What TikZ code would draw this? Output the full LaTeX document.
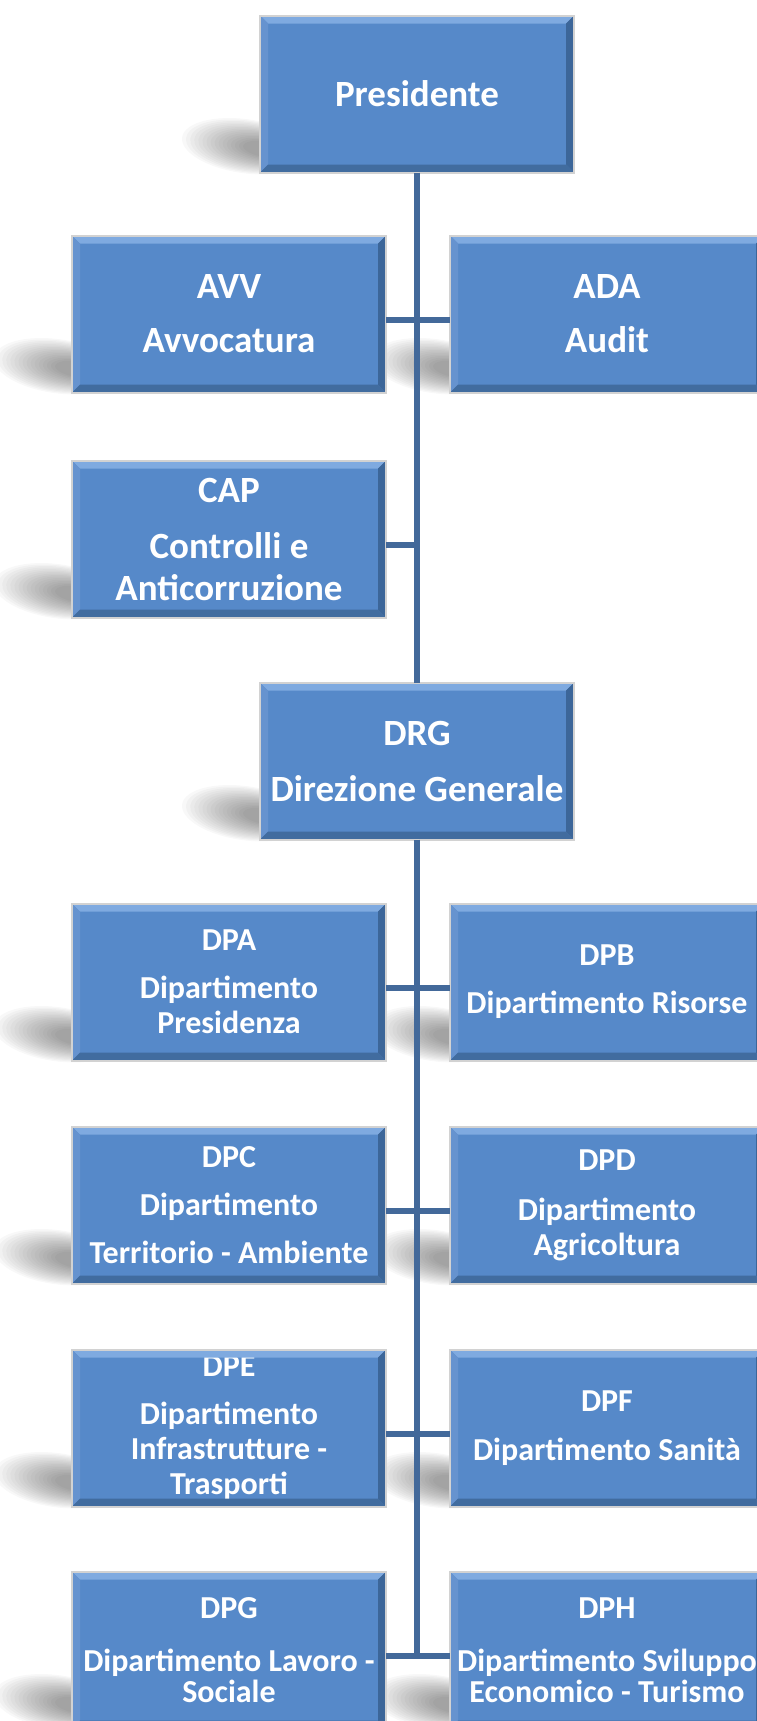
\documentclass[tikz,border=0pt]{standalone}
\usepackage{fontspec}
\setmainfont{Carlito}
\usepackage{xcolor}
\usepackage{tikz}
\usetikzlibrary{positioning,backgrounds}

\definecolor{boxblu}{HTML}{5689C9}
\definecolor{boxchiaro}{HTML}{7FAAE0}
\definecolor{boxsinistro}{HTML}{6693CF}
\definecolor{boxscuro}{HTML}{3C6699}
\definecolor{boxfondo}{HTML}{416C9F}
\definecolor{lineablu}{HTML}{43699A}

% bordo smussato di un riquadro
\newcommand{\smusso}[1]{%
  \fill[boxchiaro] (#1.north west) -- (#1.north east) -- ([shift={(-8,8)}]#1.north east) -- ([shift={(8,8)}]#1.north west) -- cycle;
  \fill[boxsinistro] (#1.north west) -- ([shift={(8,8)}]#1.north west) -- ([shift={(8,-8)}]#1.south west) -- (#1.south west) -- cycle;
  \fill[boxscuro] (#1.north east) -- (#1.south east) -- ([shift={(-8,-8)}]#1.south east) -- ([shift={(-8,8)}]#1.north east) -- cycle;
  \fill[boxfondo] (#1.south west) -- (#1.south east) -- ([shift={(-8,-8)}]#1.south east) -- ([shift={(8,-8)}]#1.south west) -- cycle;
  \draw[gray!35, line width=2pt] (#1.north west) rectangle (#1.south east);
}

% ombra sfumata a sinistra
\newcommand{\ombra}[1]{%
  \foreach \k in {0,...,15} {
    \fill[black, opacity=0.028, shift={(#1.south west)}, rotate=-8]
      (-18+1.5*\k,-24) ellipse [x radius=64-2.6*\k, y radius=27-1.25*\k];
  }
}

\begin{document}
\begin{tikzpicture}[x=1pt, y=-1pt, node distance=65pt]
  % Define styles
  \tikzstyle{vertice} = [rectangle, fill=boxblu, draw=gray!35, line width=2pt, minimum width=314pt, minimum height=157pt, inner sep=0pt, outer sep=0pt, align=center, text=white, font=\bfseries\fontsize{37}{42}\selectfont]
  \tikzstyle{dip} = [vertice, font=\bfseries\fontsize{32}{35}\selectfont]
  \tikzstyle{linea} = [draw, line width=5.5pt, lineablu]

  \useasboundingbox (0,0) rectangle (757,1721);

  % Nodes
  \node [vertice] (presidente) at (417,94) {Presidente};
  \node [vertice, below=63pt of presidente, xshift=-188pt] (avv) {AVV\\[12pt]Avvocatura};
  \node [vertice, right=64pt of avv] (ada) {ADA\\[12pt]Audit};
  \node [vertice, below=68pt of avv] (cap) {CAP\\[14pt]Controlli e\\Anticorruzione};
  \node [vertice, below=65pt of cap, xshift=188pt] (drg) {DRG\\[14pt]Direzione Generale};

  \node [dip, below=64pt of drg, xshift=-188pt] (dpa) {DPA\\[13pt]Dipartimento\\Presidenza};
  \node [dip, right=64pt of dpa] (dpb) {DPB\\[13pt]Dipartimento Risorse};
  \node [dip, below=66pt of dpa] (dpc) {DPC\\[13pt]Dipartimento\\[13pt]Territorio - Ambiente};
  \node [dip, right=64pt of dpc] (dpd) {DPD\\[15pt]Dipartimento\\Agricoltura};
  \node [dip, below=66pt of dpc] (dpe) {DPE\\[13pt]Dipartimento\\Infrastrutture -\\Trasporti};
  \node [dip, right=64pt of dpe] (dpf) {DPF\\[14pt]Dipartimento Sanità};
  \node [dip, below=65pt of dpe] (dpg) {DPG\\[18pt]Dipartimento Lavoro -\\[-4pt]Sociale};
  \node [dip, right=64pt of dpg] (dph) {DPH\\[18pt]Dipartimento Sviluppo\\[-4pt]Economico - Turismo};

  \foreach \n in {presidente,avv,ada,cap,drg,dpa,dpb,dpc,dpd,dpe,dpf,dpg,dph} {
    \smusso{\n}
    \begin{pgfonlayer}{background}
      \ombra{\n}
    \end{pgfonlayer}
  }

  % Arrows
  \foreach \n in {avv,cap,dpa,dpc,dpe,dpg} {
    \coordinate (\n-c) at ([yshift=-6pt]\n.east);
  }
  \foreach \n in {ada,dpb,dpd,dpf,dph} {
    \coordinate (\n-c) at ([yshift=-6pt]\n.west);
  }
  \draw [linea] (presidente) -- (drg);
  \draw [linea] (drg) -- (drg |- dpg-c);
  \draw [linea] (avv-c) -- (ada-c);
  \draw [linea] (cap-c) -- (cap-c -| drg);
  \draw [linea] (dpa-c) -- (dpb-c);
  \draw [linea] (dpc-c) -- (dpd-c);
  \draw [linea] (dpe-c) -- (dpf-c);
  \draw [linea] (dpg-c) -- (dph-c);
\end{tikzpicture}
\end{document}
